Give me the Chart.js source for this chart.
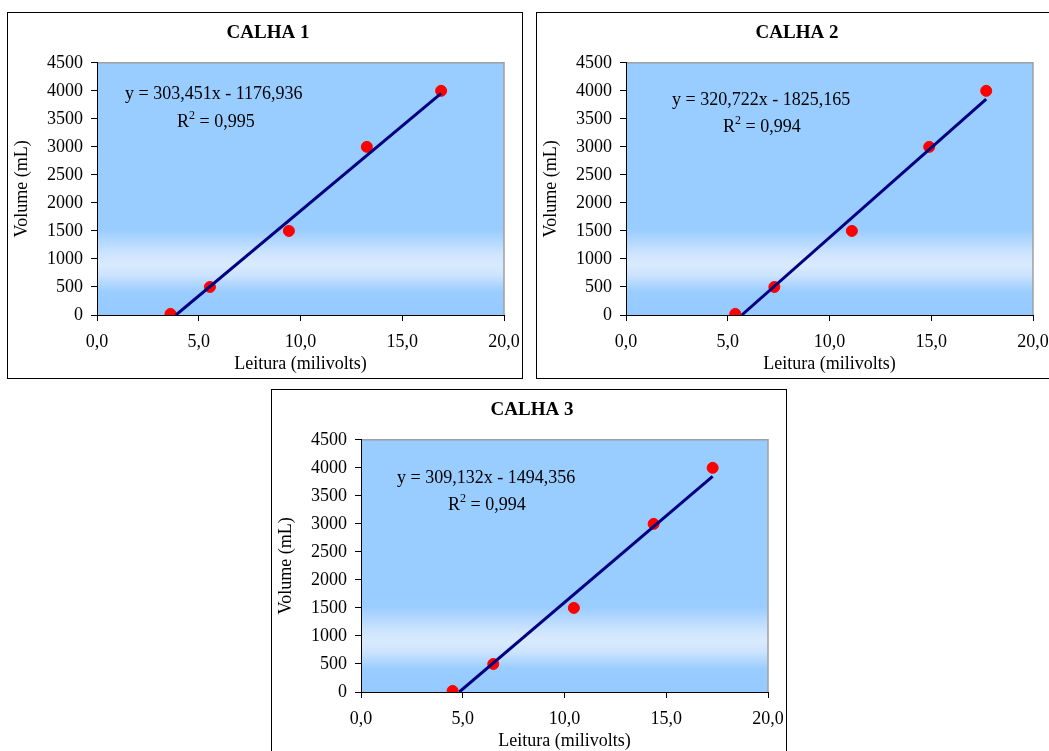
<!DOCTYPE html>
<html lang="pt">
<head>
<meta charset="utf-8">
<title>Calhas - curvas de calibração</title>
<script src="https://cdn.jsdelivr.net/npm/chart.js@4.4.0/dist/chart.umd.min.js"></script>
<style>
  html, body { margin: 0; padding: 0; background: #fff; }
  body { width: 1049px; height: 751px; position: relative; overflow: hidden; }
  .box { position: absolute; width: 514px; height: 365px; border: 1px solid #000; background: #fff; }
  .box canvas { position: absolute; left: 0; top: 0; }
  #box1 { left: 7px; top: 12px; }
  #box2 { left: 536px; top: 12px; }
  #box3 { left: 271px; top: 389px; }
</style>
</head>
<body>
<div class="box" id="box1"><canvas id="chart1" width="514" height="365"></canvas></div>
<div class="box" id="box2"><canvas id="chart2" width="514" height="365"></canvas></div>
<div class="box" id="box3"><canvas id="chart3" width="514" height="365"></canvas></div>

<script>
// ── dados ──
const titles = ['CALHA 1', 'CALHA 2', 'CALHA 3'];
const xTicks = [0, 5, 10, 15, 20];
const yTicks = [0, 500, 1000, 1500, 2000, 2500, 3000, 3500, 4000, 4500];

const volume = [20, 500, 1500, 3000, 4000];
const leitura1 = [3.61, 5.55, 9.43, 13.26, 16.91];
const leitura2 = [5.37, 7.29, 11.10, 14.90, 17.70];
const leitura3 = [4.50, 6.50, 10.46, 14.38, 17.28];

// linhas de tendência (início no eixo, fim no último ponto)
const trend1X = [3.88, 16.91];
const trend1Y = [0, 3954];
const trend2X = [5.69, 17.70];
const trend2Y = [0, 3852];
const trend3X = [4.83, 17.28];
const trend3Y = [0, 3847];

const equations = ['y = 303,451x - 1176,936', 'y = 320,722x - 1825,165', 'y = 309,132x - 1494,356'];
const r2Values = ['0,995', '0,994', '0,994'];

Chart.defaults.font.family = '"Liberation Serif", "Times New Roman", serif';
Chart.defaults.color = '#000';

const fmtComma = v => Number(v).toFixed(1).replace('.', ',');

// ── fundo da área de plotagem (gradiente do Excel) ──
const plotBackground = {
  id: 'plotBackground',
  beforeDraw(chart) {
    const { ctx, chartArea: a } = chart;
    const g = ctx.createLinearGradient(0, a.top, 0, a.bottom);
    g.addColorStop(0, '#99ccff');
    g.addColorStop(0.66, '#99ccff');
    g.addColorStop(0.76, '#cfe5fe');
    g.addColorStop(0.80, '#d8eafe');
    g.addColorStop(0.84, '#cde4fe');
    g.addColorStop(0.91, '#99ccff');
    g.addColorStop(1, '#96caff');
    ctx.save();
    ctx.fillStyle = g;
    ctx.fillRect(a.left, a.top, a.width, a.height);
    ctx.strokeStyle = '#a0a0a0';
    ctx.lineWidth = 1.5;
    ctx.beginPath();
    ctx.moveTo(a.left, a.top);
    ctx.lineTo(a.right, a.top);
    ctx.lineTo(a.right, a.bottom);
    ctx.stroke();
    ctx.restore();
  }
};

// ── equação e R² ──
const trendLabel = {
  id: 'trendLabel',
  afterDatasetsDraw(chart, args, opts) {
    const { ctx, chartArea: a } = chart;
    const font = '18px "Liberation Serif", serif';
    ctx.save();
    ctx.fillStyle = '#000';
    ctx.textBaseline = 'middle';
    ctx.textAlign = 'left';
    ctx.font = font;
    ctx.fillText(opts.eq, a.left + opts.eqPos[0], a.top + opts.eqPos[1]);

    let x = a.left + opts.r2Pos[0];
    const y = a.top + opts.r2Pos[1];
    ctx.fillText('R', x, y);
    x += ctx.measureText('R').width;
    ctx.font = '12px "Liberation Serif", serif';
    ctx.fillText('2', x, y - 6);
    x += ctx.measureText('2').width;
    ctx.font = font;
    ctx.fillText(' = ' + opts.r2, x, y);
    ctx.restore();
  }
};

function makeChart(id, idx, xs, tX, tY, eqPos, r2Pos) {
  const ctx = document.getElementById(id).getContext('2d');
  return new Chart(ctx, {
    type: 'scatter',
    data: {
      datasets: [
        {
          type: 'line',
          data: tX.map((x, i) => ({ x, y: tY[i] })),
          borderColor: '#000080',
          borderWidth: 3,
          pointRadius: 0,
          fill: false,
          order: 0
        },
        {
          data: xs.map((x, i) => ({ x, y: volume[i] })),
          backgroundColor: '#ff0000',
          borderColor: '#ff0000',
          pointRadius: 5.5,
          order: 1
        }
      ]
    },
    options: {
      responsive: false,
      animation: false,
      layout: { padding: { left: 6, top: 0, right: 0, bottom: 0 } },
      plugins: {
        legend: { display: false },
        tooltip: { enabled: false },
        title: {
          display: true,
          text: titles[idx],
          color: '#000',
          font: { size: 19, weight: 'bold' },
          padding: { top: 9, bottom: 18 }
        },
        trendLabel: { eq: equations[idx], r2: r2Values[idx], eqPos, r2Pos }
      },
      scales: {
        x: {
          type: 'linear',
          min: xTicks[0],
          max: xTicks[xTicks.length - 1],
          afterBuildTicks: s => { s.ticks = xTicks.map(v => ({ value: v })); },
          ticks: { color: '#000', font: { size: 18 }, padding: 10, maxRotation: 0, autoSkip: false, callback: fmtComma },
          grid: { drawOnChartArea: false, drawTicks: true, tickLength: 6, color: '#000' },
          border: { color: '#000', width: 1 },
          title: { display: true, text: 'Leitura (milivolts)', color: '#000', font: { size: 18 }, padding: { top: 0, bottom: 3 } },
          afterFit: s => { s.height = 63; s.paddingLeft = 12; s.paddingRight = 18; }
        },
        y: {
          type: 'linear',
          min: yTicks[0],
          max: yTicks[yTicks.length - 1],
          afterBuildTicks: s => { s.ticks = yTicks.map(v => ({ value: v })); },
          ticks: { color: '#000', font: { size: 18 }, padding: 8, autoSkip: false, callback: v => String(v) },
          grid: { drawOnChartArea: false, drawTicks: true, tickLength: 6, color: '#000' },
          border: { color: '#000', width: 1 },
          title: { display: true, text: 'Volume (mL)', color: '#000', font: { size: 18 }, padding: { top: -3, bottom: 0 } },
          afterFit: s => { s.width = 83; }
        }
      }
    },
    plugins: [plotBackground, trendLabel]
  });
}

makeChart('chart1', 0, leitura1, trend1X, trend1Y, [28, 31], [80, 59]);
makeChart('chart2', 1, leitura2, trend2X, trend2Y, [46, 37], [97, 64]);
makeChart('chart3', 2, leitura3, trend3X, trend3Y, [36, 38], [87, 65]);
</script>
</body>
</html>
